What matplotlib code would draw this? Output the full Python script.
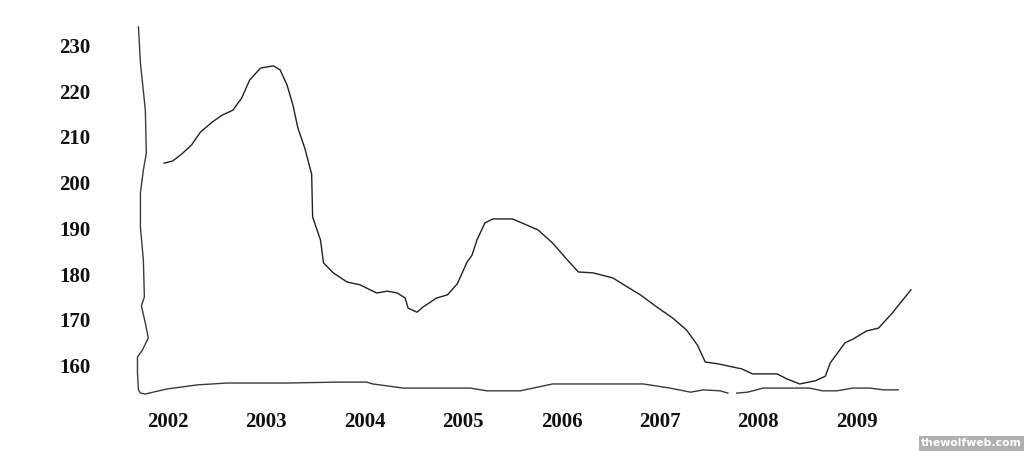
import matplotlib
matplotlib.use("Agg")
import matplotlib.pyplot as plt
import numpy as np

# main series (year, value)
years = [2001.96, 2002.05, 2002.15, 2002.24, 2002.33, 2002.45, 2002.55, 2002.66,
         2002.75, 2002.83, 2002.94, 2003.07, 2003.14, 2003.21, 2003.27, 2003.32,
         2003.39, 2003.46, 2003.47, 2003.55, 2003.58, 2003.68, 2003.82, 2003.95,
         2004.12, 2004.23, 2004.33, 2004.41, 2004.44, 2004.53, 2004.59, 2004.73,
         2004.84, 2004.94, 2005.04, 2005.09, 2005.14, 2005.22, 2005.30, 2005.50,
         2005.60, 2005.76, 2005.91, 2006.06, 2006.17, 2006.32, 2006.52, 2006.67,
         2006.80, 2006.97, 2007.13, 2007.27, 2007.38, 2007.46, 2007.59, 2007.74,
         2007.83, 2007.94, 2008.19, 2008.29, 2008.42, 2008.58, 2008.68, 2008.73,
         2008.88, 2008.96, 2009.10, 2009.22, 2009.36, 2009.55]
values = [204.8, 205.3, 207.0, 208.8, 211.6, 213.8, 215.3, 216.4,
          219.1, 223.0, 225.6, 226.1, 225.2, 221.9, 217.5, 212.5,
          208.1, 202.4, 193.0, 188.0, 183.0, 180.8, 178.8, 178.2,
          176.4, 176.8, 176.4, 175.3, 173.1, 172.2, 173.3, 175.3,
          176.0, 178.4, 183.2, 184.7, 188.0, 191.7, 192.6, 192.6,
          191.7, 190.2, 187.3, 183.6, 181.0, 180.8, 179.7, 177.7,
          176.0, 173.3, 170.9, 168.3, 165.0, 161.3, 160.9, 160.2,
          159.8, 158.7, 158.7, 157.6, 156.5, 157.2, 158.2, 161.1,
          165.5, 166.3, 168.1, 168.7, 172.0, 177.1]

# hand drawn left axis, top to bottom
axis_left_x = [2001.70, 2001.72, 2001.77, 2001.78, 2001.75, 2001.72, 2001.72, 2001.75,
               2001.76, 2001.73, 2001.77, 2001.80, 2001.74, 2001.69, 2001.69, 2001.70]
axis_left_y = [234.6, 226.7, 216.4, 207.0, 203.3, 198.3, 190.8, 183.6,
               175.5, 173.6, 169.8, 166.6, 163.9, 162.4, 158.9, 155.2]

# hand drawn bottom axis (gap around late 2007)
axis_bottom_x = [2001.72, 2001.77, 2001.99, 2002.30, 2002.60, 2003.21, 2003.72, 2004.02,
                 2004.08, 2004.39, 2004.73, 2005.07, 2005.24, 2005.58, 2005.91, 2006.83,
                 2007.10, 2007.31, 2007.44, 2007.61, 2007.69, np.nan, 2007.78, 2007.89,
                 2008.05, 2008.52, 2008.65, 2008.80, 2008.96, 2009.13, 2009.27, 2009.42]
axis_bottom_y = [154.5, 154.3, 155.4, 156.3, 156.7, 156.7, 156.9, 156.9,
                 156.5, 155.6, 155.6, 155.6, 155.0, 155.0, 156.5, 156.5,
                 155.6, 154.7, 155.2, 155.0, 154.5, np.nan, 154.5, 154.7,
                 155.6, 155.6, 155.0, 155.0, 155.6, 155.6, 155.2, 155.2]

year_labels = [2002, 2003, 2004, 2005, 2006, 2007, 2008, 2009]
value_labels = [230, 220, 210, 200, 190, 180, 170, 160]

fig = plt.figure(figsize=(10.24, 4.51), dpi=100)
ax = fig.add_axes([0, 0, 1, 1])
ax.set_xlim(2000.293, 2010.699)
ax.set_ylim(141.83, 240.5)
ax.axis("off")

frame_x = axis_left_x + axis_bottom_x
frame_y = axis_left_y + axis_bottom_y
ax.plot(frame_x, frame_y, color="#3a3a3a", lw=1.0)
ax.plot(years, values, color="#222222", lw=1.0)

font = dict(family="Liberation Serif", fontweight="bold", fontsize=15, color="#111111")
for v in value_labels:
    ax.text(2001.055, v, str(v), ha="center", va="center", **font)
for y in year_labels:
    ax.text(y, 148.2, str(y), ha="center", va="center", **font)

# watermark
fig.text(0.949, 0.017, "thewolfweb.com", ha="center", va="center", fontsize=7.8,
         fontweight="bold", color="white", family="DejaVu Sans",
         bbox=dict(boxstyle="square,pad=0.25", fc="#b0b0b0", ec="none"))

fig.savefig("out.png", dpi=100)
